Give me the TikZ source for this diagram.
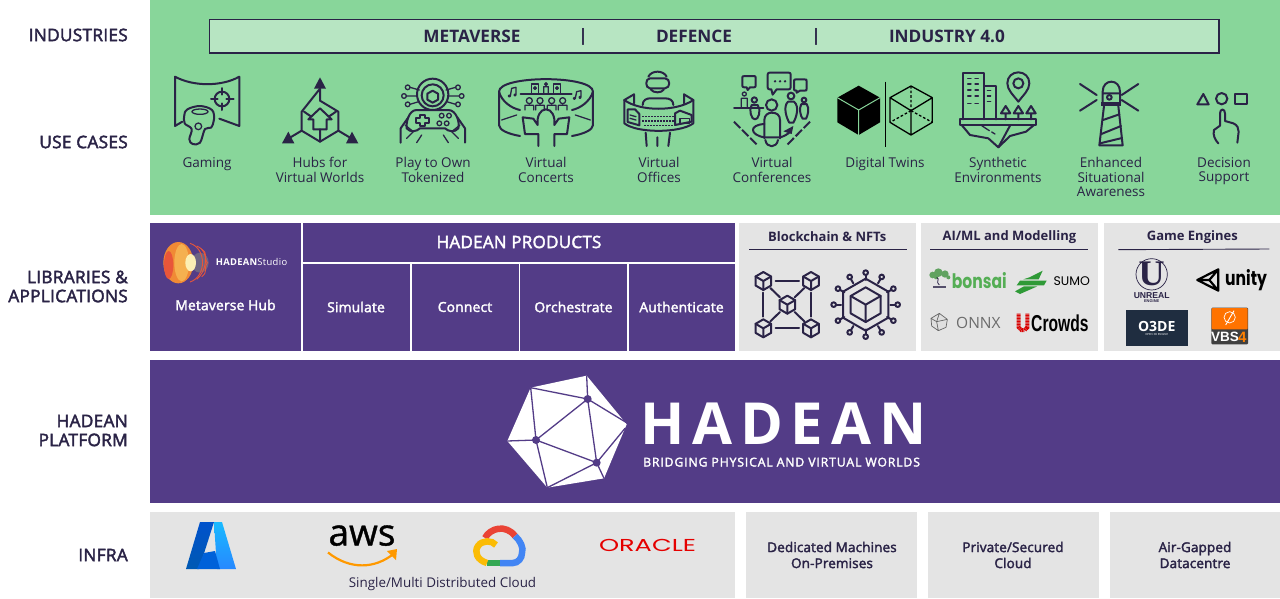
\documentclass[tikz,border=0pt]{standalone}
\usepackage{fontspec}
\setmainfont{Open Sans}
\newfontfamily\semi[FakeBold=2.4]{Open Sans}
\newfontfamily\medium[FakeBold=1]{Open Sans}
\newfontfamily\pop{Poppins}
\newfontfamily\lib{Liberation Sans}
\newfontfamily\libser{Liberation Serif}
\definecolor{ink}{HTML}{2A2346}
\definecolor{grn}{HTML}{88D69A}
\definecolor{grnl}{HTML}{B7E5C2}
\definecolor{pur}{HTML}{533C87}
\definecolor{gry}{HTML}{E4E4E4}
\definecolor{o3}{HTML}{1F2D40}
\definecolor{gred}{HTML}{EA4335}
\definecolor{gblue}{HTML}{4285F4}
\definecolor{ggreen}{HTML}{34A853}
\definecolor{gyel}{HTML}{FBBC05}
\definecolor{awsor}{HTML}{FF9900}
\definecolor{bons}{HTML}{55AE55}
\definecolor{sumog}{HTML}{2F9A37}
\definecolor{stA}{HTML}{F08A35}
\definecolor{stB}{HTML}{E8563A}
\definecolor{stC}{HTML}{F5B04F}
\definecolor{stD}{HTML}{FCEFB4}
\newcommand\hexcube[3]{%
  \draw[ico] (#1,{#2-#3})--({#1+.866*#3},{#2-.5*#3})--({#1+.866*#3},{#2+.5*#3})--(#1,{#2+#3})--({#1-.866*#3},{#2+.5*#3})--({#1-.866*#3},{#2-.5*#3})--cycle;
  \draw[ico] ({#1-.866*#3},{#2-.5*#3})--(#1,#2)--({#1+.866*#3},{#2-.5*#3}) (#1,#2)--(#1,{#2+#3});}
\tikzset{
 x=1pt,y=-1pt,
 ico/.style={draw=ink,line width=2pt,line join=round,line cap=round},
 thin ico/.style={draw=ink,line width=1.3pt,line join=round,line cap=round},
 z1/.style={shift={(150,60)},x=.33333pt,y=-.33333pt},
 z2/.style={shift={(580,60)},x=.33333pt,y=-.33333pt},
 z3/.style={shift={(950,60)},x=.33333pt,y=-.33333pt},
 z4/.style={shift={(150,220)},x=.33333pt,y=-.33333pt},
 z5/.style={shift={(735,220)},x=.33333pt,y=-.33333pt},
 z6/.style={shift={(920,220)},x=.33333pt,y=-.33333pt},
 z7/.style={shift={(490,365)},x=.33333pt,y=-.33333pt},
 rowlab/.style={font=\semi\fontsize{17.3}{19}\selectfont\addfontfeature{LetterSpace=1.5},text=ink,align=right,anchor=east,inner sep=0pt},
 barlab/.style={font=\fontsize{17.2}{19}\selectfont\bfseries,text=ink,inner sep=0pt},
 uselab/.style={font=\fontsize{13.5}{14.6}\selectfont,text=ink,align=center,inner sep=0pt,anchor=north},
 whitelab/.style={font=\semi\fontsize{13.8}{15}\selectfont\addfontfeature{LetterSpace=1.5},text=white,inner sep=0pt},
 graylab/.style={font=\semi\fontsize{13.5}{16}\selectfont\addfontfeature{LetterSpace=1},text=ink,align=center,inner sep=0pt},
 purbox/.style={fill=pur,draw=none},
 grybox/.style={fill=gry,draw=none},
}
\begin{document}
\begin{tikzpicture}
\useasboundingbox (0,0) rectangle (1280,598);
\fill[white] (0,0) rectangle (1280,598);
% panels
\fill[grn] (150,0) rectangle (1280,215);
\draw[fill=grnl,draw=ink,line width=1.4pt] (209.5,19.5) rectangle (1219,53);
\fill[purbox] (150,223) rectangle (301,351);
\fill[purbox] (303,223) rectangle (735,262);
\fill[purbox] (303,264) rectangle (410,351);
\fill[purbox] (411.5,264) rectangle (518.5,351);
\fill[purbox] (520,264) rectangle (627,351);
\fill[purbox] (628.5,264) rectangle (735,351);
\fill[grybox] (739,223) rectangle (916,351);
\fill[grybox] (921,223) rectangle (1098,351);
\fill[grybox] (1104,223) rectangle (1280,351);
\fill[purbox] (150,360) rectangle (1280,503);
\fill[grybox] (150,512) rectangle (735,598);
\fill[grybox] (746,512) rectangle (917,598);
\fill[grybox] (928,512) rectangle (1099,598);
\fill[grybox] (1110,512) rectangle (1280,598);
% row labels
\node[rowlab] (rIndustries) at (128,35) {INDUSTRIES};
\node[rowlab] (rUse) at (128,142) {USE CASES};
\node[rowlab] (rLib) at (128,286.5) {LIBRARIES \&\\APPLICATIONS};
\node[rowlab] (rPlat) at (128,430.5) {HADEAN\\PLATFORM};
\node[rowlab] (rInfra) at (128,555) {INFRA};
% top bar
\node[barlab] (tMeta) at (472,36) {METAVERSE};
\node[barlab] (tSep1) at (583,36.5) {|};
\node[barlab] (tDef) at (694,36) {DEFENCE};
\node[barlab] (tSep2) at (816,36.5) {|};
\node[barlab] (tInd) at (947,36) {INDUSTRY 4.0};
% use-case labels
\node[uselab] (u1) at (207,157) {Gaming};
\node[uselab] (u2) at (320,157) {Hubs for\\Virtual Worlds};
\node[uselab] (u3) at (433,157) {Play to Own\\Tokenized};
\node[uselab] (u4) at (546,157) {Virtual\\Concerts};
\node[uselab] (u5) at (659,157) {Virtual\\Offices};
\node[uselab] (u6) at (772,157) {Virtual\\Conferences};
\node[uselab] (u7) at (885,157) {Digital Twins};
\node[uselab] (u8) at (998,157) {Synthetic\\Environments};
\node[uselab] (u9) at (1111,157) {Enhanced\\Situational\\Awareness};
\node[uselab] (u10) at (1224,157) {Decision\\Support};
% ---- Gaming
\begin{scope}[z1]
\draw[ico] (97,185)--(75,198)--(75,50) .. controls (130,80) and (215,80) .. (268,50)--(268,198)--(208,176);
\draw[ico] (216,117) circle[radius=22];
\draw[ico] (216,84)--(216,104) (216,130)--(216,150) (183,117)--(203,117) (229,117)--(251,117);
\draw[ico] plot[smooth cycle,tension=.6] coordinates {(112,148)(150,138)(186,150)(192,178)(183,203)(165,207)(150,248)(128,252)(118,238)(125,207)(104,190)(103,165)};
\draw[thin ico] (150,155) ellipse[x radius=24,y radius=8];
\draw[thin ico] (145,199) circle[radius=10];
% ---- Hubs
\fill[ink] (510,52)--(528,86)--(492,86)--cycle (396,250)--(433,250)--(415,215)--cycle (625,250)--(588,250)--(606,215)--cycle;
\draw[ico] (510,86)--(510,122)--(565,155)--(565,212)--(510,245)--(455,212)--(455,155)--cycle;
\draw[ico] (455,212)--(418,234) (565,212)--(602,234);
\draw[ico] (510,145)--(545,178)--(530,178)--(530,208)--(490,208)--(490,178)--(475,178)--cycle;
\draw[ico] (510,208)--(510,245) (462,155)--(484,170) (558,155)--(536,170);
% ---- Play to own
\draw[ico] (848,103) circle[radius=47];
\draw[ico] (848,106) circle[radius=33];
\draw[ico] (848,92)--(864,101)--(864,119)--(848,128)--(832,119)--(832,101)--cycle;
\foreach \p/\q in {773/82,762/108,773/133,924/82,935/108,924/133}{\draw[thin ico] (\p,\q) circle[radius=7];}
\draw[thin ico] (780,82)--(808,90) (769,108)--(801,108) (780,133)--(806,125) (917,82)--(888,90) (928,108)--(895,108) (917,133)--(890,125);
\draw[ico] (800,150)--(895,150) .. controls (920,150) and (930,190) .. (925,205) .. controls (915,218) and (895,215) .. (885,205)--(810,205) .. controls (800,215) and (780,218) .. (770,205) .. controls (768,190) and (775,150) .. (800,150);
\draw[ico] (810,165)--(825,165)--(825,174)--(836,174)--(836,188)--(825,188)--(825,198)--(810,198)--(810,188)--(798,188)--(798,174)--(810,174)--cycle;
\foreach \p/\q in {875/167,897/167,868/190,890/190}{\draw[thin ico] (\p,\q) circle[radius=7];}
\draw[ico] (752,248)--(752,205)--(775,172) (945,248)--(945,205)--(922,172);
\draw[thin ico] (770,235)--(790,215) (800,248)--(815,225) (925,235)--(905,215) (895,248)--(880,225) (765,195)--(790,215) (930,195)--(905,215);
% ---- Concerts
\draw[ico] (1110,228) .. controls (1075,222) and (1047,210) .. (1047,195)--(1047,95) .. controls (1047,45) and (1329,45) .. (1329,95)--(1329,195) .. controls (1329,210) and (1300,222) .. (1266,228);
\draw[ico] (1047,95) .. controls (1055,125) and (1085,145) .. (1110,150);
\draw[ico] (1329,95) .. controls (1320,125) and (1290,145) .. (1266,150);
\draw[thin ico] (1055,180)--(1100,165) (1321,180)--(1276,165);
\draw[ico] (1112,102)--(1265,102);
\draw[thin ico] (1145,72) rectangle (1165,100) (1210,72) rectangle (1232,100);
\draw[thin ico] (1155,84) circle[radius=4] (1221,84) circle[radius=4] (1188,72) circle[radius=4] (1181,100)--(1181,80)--(1195,80)--(1195,100);
\foreach \p in {1138,1170,1205,1238}{\draw[thin ico] (\p,122) circle[radius=9] (\p-13,150)--(\p-13,136)--(\p+13,136)--(\p+13,150);}
\draw[ico] (1165,258)--(1165,222)--(1125,222)--(1118,172)--(1150,176)--(1163,195) .. controls (1160,170) and (1170,148) .. (1188,148) .. controls (1206,148) and (1216,170) .. (1213,195)--(1226,176)--(1258,172)--(1251,222)--(1213,222)--(1213,258);
\draw[thin ico] (1078,108) circle[radius=3] (1081,108)--(1085,85)--(1098,82) (1095,105) circle[radius=3] (1098,105)--(1098,82);
\draw[thin ico] (1273,115) circle[radius=3] (1276,115)--(1280,95)--(1293,92) (1290,112) circle[radius=3] (1293,112)--(1293,92);
\end{scope}
\begin{scope}[z2]
% ---- Offices
\draw[ico] (205,50) .. controls (215,30) and (250,30) .. (260,50);
\draw[ico] (210,55)--(255,55) .. controls (272,55) and (272,85) .. (255,85)--(210,85) .. controls (195,85) and (195,55) .. (210,55);
\draw[ico] (212,88) .. controls (220,100) and (245,100) .. (252,88);
\draw[ico] (188,135) .. controls (188,120) and (200,115) .. (210,115)--(255,115) .. controls (268,115) and (280,120) .. (280,135);
\draw[ico] (133,120)--(162,103)--(162,130) (340,120)--(312,103)--(312,130);
\draw[ico] (133,120) .. controls (180,155) and (290,155) .. (340,120);
\draw[ico] (133,120)--(133,190) .. controls (170,220) and (300,220) .. (340,190)--(340,120);
\draw[thin ico,line cap=butt,dash pattern=on 2pt off 1pt] (187,170)--(285,170) (187,183)--(285,183) (192,196)--(280,196);
\draw[ico] (143,148)--(165,148)--(178,162)--(178,196)--(143,186)--cycle;
\draw[thin ico] (150,165)--(168,170) (150,175)--(168,180);
\draw[ico] (285,195)--(285,160)--(300,152)--(335,165)--(335,185)--cycle;
\draw[thin ico] (300,175) rectangle (328,190);
\draw[ico] (197,218)--(200,258) (270,218)--(265,258) (232,232)--(232,258);
% ---- Conferences
\draw[ico] (495,48)--(517,48) .. controls (527,48) and (527,48) .. (527,58)--(527,72) .. controls (527,82) and (527,82) .. (517,82)--(510,82)--(503,90)--(500,82) .. controls (487,82) and (487,82) .. (487,72)--(487,58) .. controls (487,48) and (487,48) .. (495,48);
\draw[ico] (575,38)--(620,38) .. controls (632,38) and (632,38) .. (632,50)--(632,75) .. controls (632,88) and (632,88) .. (620,88)--(590,88)--(578,104)--(574,88) .. controls (563,88) and (563,88) .. (563,75)--(563,50) .. controls (563,38) and (563,38) .. (575,38);
\fill[ink] (585,64) circle[radius=4] (600,64) circle[radius=4] (615,64) circle[radius=4];
\draw[ico] (650,58)--(672,58) .. controls (680,58) and (680,58) .. (680,66)--(680,84) .. controls (680,92) and (680,92) .. (672,92)--(660,92)--(650,98)--(650,92) .. controls (642,92) and (642,92) .. (642,84)--(642,66) .. controls (642,58) and (642,58) .. (650,58);
\draw[ico] (462,143)--(550,143);
\draw[thin ico] (493,102) circle[radius=6] (484,140)--(484,115)--(502,115)--(502,140);
\draw[ico] (523,120) circle[radius=8];
\draw[ico] (515,135) .. controls (505,150) and (515,180) .. (525,178) .. controls (535,180) and (545,150) .. (533,135) -- cycle;
\draw[ico] (633,108) circle[radius=10];
\draw[ico] (624,125)--(642,125) .. controls (660,140) and (648,175) .. (640,188)--(628,188) .. controls (620,175) and (608,140) .. (624,125);
\draw[ico] (672,120) circle[radius=7];
\draw[ico] (664,132)--(680,132) .. controls (690,145) and (682,170) .. (678,176)--(668,176) .. controls (662,170) and (656,145) .. (664,132);
\draw[ico] (575,135) circle[radius=17];
\draw[ico] (553,235)--(553,180) .. controls (553,165) and (565,158) .. (575,158) .. controls (590,158) and (600,165) .. (600,180)--(600,235);
\draw[ico] (553,232)  .. controls (510,225) and (505,195) .. (553,192);
\draw[ico] (553,232)--(600,232) .. controls (610,230) and (625,222) .. (630,215);
\fill[ink] (640,198)--(635,222)--(610,214)--cycle;
\draw[ico] (556,240) .. controls (560,265) and (590,265) .. (594,240);
\draw[ico,line cap=butt,dash pattern=on 9pt off 2.5pt] (462,185)--(535,258) (690,185)--(618,258);
% ---- Digital twins
\fill[black] (836,77)--(900,113)--(900,187)--(836,225)--(772,187)--(772,113)--cycle;
\draw[grn,line width=1pt] (772,113)--(836,150)--(900,113) (836,150)--(836,225);
\draw[black,line width=1pt] (915,65)--(915,262);
\draw[black,line width=1.3pt,line join=round] (993,78)--(1057,113)--(1057,187)--(993,225)--(930,187)--(930,113)--cycle (930,113)--(993,152)--(1057,113) (993,152)--(993,225);
\draw[black,line width=1.3pt,dash pattern=on 2.6pt off 2pt] (993,78)--(993,152) (993,152)--(930,187) (993,152)--(1057,187);
\end{scope}
\begin{scope}[z3]
% ---- Synthetic
\draw[ico] (38,178)--(38,38)--(103,38)--(103,178) (103,77)--(137,77)--(137,178);
\draw[ico] (30,178)--(258,178)--(258,195)--(30,195)--cycle;
\foreach \q in {55,72,90,108,130}{\draw[thin ico] (53,\q)--(63,\q) (75,\q)--(85,\q);}
\foreach \q in {92,108,125}{\draw[thin ico] (112,\q)--(122,\q);}
\draw[ico] (205,125) .. controls (190,105) and (172,90) .. (172,70) .. controls (172,50) and (187,37) .. (205,37) .. controls (223,37) and (238,50) .. (238,70) .. controls (238,90) and (220,105) .. (205,125)--cycle;
\draw[ico] (205,70) circle[radius=15];
\foreach \p in {167,205,243}{\draw[ico] (\p,138)--(\p+14,160)--(\p-14,160)--cycle (\p,160)--(\p,178);}
\draw[ico] (35,195)--(60,225)--(115,235)--(145,262)--(180,228)--(228,215)--(252,195);
\draw[ico] (180,197)--(145,262);
\draw[thin ico] (95,197)--(118,212) (125,216)--(135,222);
% ---- Lighthouse
\draw[ico] (458,128)--(458,95) .. controls (458,55) and (510,55) .. (510,95)--(510,128) (458,100)--(510,100);
\draw[ico] (478,112) circle[radius=7];
\fill[ink] (454,126) rectangle (513,139);
\draw[ico] (462,138)--(448,256)--(518,256)--(505,138);
\draw[ico] (459,180)--(508,163) (454,222)--(513,198) (450,250)--(516,234);
\draw[ico] (390,72)--(440,105) (390,152)--(440,120) (565,72)--(515,105) (565,152)--(515,120);
% ---- Decision
\draw[ico] (760,102)--(776,133)--(742,133)--cycle;
\draw[ico] (815,116) circle[radius=17];
\draw[ico] (856,102) rectangle (890,133);
\draw[ico] (810,197)--(810,160) .. controls (810,145) and (825,145) .. (825,160)--(825,183)--(850,190) .. controls (862,195) and (866,205) .. (866,215)--(862,248);
\draw[ico] (810,197)--(792,210) .. controls (788,225) and (795,240) .. (805,250);
\end{scope}
% ---- Metaverse hub
\begin{scope}[z4]
\fill[stA] (85,128) ellipse[x radius=45,y radius=62];
\fill[stB] (56,135) ellipse[x radius=14,y radius=42];
\fill[stC] (95,128) ellipse[x radius=22,y radius=56];
\fill[gray!60!pur] (150,128) ellipse[x radius=26,y radius=30];
\fill[stD] (122,128) ellipse[x radius=16,y radius=26];
\draw[stB,line width=.9pt] (120,70) .. controls (170,85) and (170,170) .. (120,186);
\draw[stB,line width=.9pt] (140,78) .. controls (185,95) and (165,160) .. (140,178);
\draw[stB,line width=.9pt] (155,88) .. controls (175,100) and (160,110) .. (172,128) .. controls (160,146) and (175,156) .. (155,170);
\node[anchor=west,inner sep=0pt,text=white] (studio) at (197,127) {\fontsize{9.4}{10}\selectfont\bfseries\addfontfeature{LetterSpace=3}HADEAN\mdseries\addfontfeature{LetterSpace=4}Studio};
\end{scope}
\node[whitelab] (hub) at (225.5,305) {Metaverse Hub};
\node[font=\semi\fontsize{17}{19}\selectfont\addfontfeature{LetterSpace=1.5},text=white,inner sep=0pt] (prod) at (519,242) {HADEAN PRODUCTS};
\node[whitelab] (p1) at (356,307) {Simulate};
\node[whitelab] (p2) at (465,307) {Connect};
\node[whitelab] (p3) at (573.5,307) {Orchestrate};
\node[whitelab] (p4) at (681.5,307) {Authenticate};
% ---- Blockchain
\begin{scope}[z5]
\node[graylab,font=\fontsize{13}{16}\selectfont\bfseries] (bc) at (277,51) {Blockchain \& NFTs};
\draw[ink,line width=.9pt] (42,89)--(516,89);
\hexcube{85}{183}{27}\hexcube{228}{183}{27}\hexcube{85}{325}{27}\hexcube{228}{325}{27}\hexcube{157}{254}{27}
\draw[ico] (122,183)--(192,183) (122,325)--(192,325) (85,218)--(85,290) (228,218)--(228,290);
\draw[ico] (106,204)--(135,232) (208,204)--(179,232) (106,304)--(135,276) (208,304)--(179,276);
\draw[ico] (392,176)--(460,215)--(460,293)--(392,332)--(324,293)--(324,215)--cycle;
\hexcube{392}{254}{52}
\foreach \a in {0,30,...,330}{
 \draw[ico] ({392+74*cos(\a)},{254+74*sin(\a)})--({392+89*cos(\a)},{254+89*sin(\a)});
 \draw[ico] ({392+96*cos(\a)},{254+96*sin(\a)}) circle[radius=7];}
\end{scope}
% ---- AI/ML
\begin{scope}[z6]
\node[font=\fontsize{13}{16}\selectfont\bfseries,text=ink,inner sep=0pt] (ai) at (268,51) {AI/ML and Modelling};
\draw[ink,line width=.9pt] (30,89)--(505,89);
\node[font=\fontsize{13}{16}\selectfont\bfseries,text=ink,inner sep=0pt] (ge) at (817,51) {Game Engines};
\draw[ink,line width=.9pt] (595,89)--(1048,87);
% bonsai
\foreach \p/\q/\r in {38/165/10,55/158/13,75/162/11,85/172/6,48/172/6}{\fill[bons!75!gray] (\p,\q) circle[radius=\r];}
\draw[ink,line width=.8pt] (50,172) .. controls (62,178) and (45,185) .. (58,195);
\fill[ink!80] (40,197) rectangle (78,205);
\node[font=\pop\fontsize{20}{20}\selectfont\bfseries\addfontfeature{FakeStretch=.78},text=bons,anchor=west,inner sep=0pt] (bonsai) at (95,183) {bonsai};
% sumo
\fill[sumog] (328,172)--(368,152)--(356,178)--(310,178)--cycle;
\fill[sumog] (300,182)--(380,182)--(372,196)--(290,196)--cycle;
\fill[sumog] (285,214)--(312,199)--(352,199)--(300,222)--cycle;
\node[font=\pop\fontsize{12.5}{14}\selectfont,text=black,anchor=west,inner sep=0pt] (sumo) at (400,184) {SUMO};
% onnx
\draw[gray!80!black,fill=gray!25,line width=.7pt,line join=round] (58,280)--(82,298)--(78,322)--(55,332)--(35,318)--(33,295)--cycle (58,280)--(50,305)--(33,295) (50,305)--(82,298) (50,305)--(55,332);
\node[font=\fontsize{15.5}{17}\selectfont,text=gray!85!black,anchor=west,inner sep=0pt] (onnx) at (108,308) {ONNX};
% ucrowds
\draw[red!85!black,line width=4pt,dash pattern=on 1pt off .5pt] (296,281)--(296,322) -- (304,330)--(314,330)--(322,322)--(322,281);
\node[font=\lib\fontsize{23}{24}\selectfont\bfseries\addfontfeature{FakeStretch=.68},text=black,anchor=west,inner sep=0pt] (crowds) at (333,310) {Crowds};
% unreal
\draw[ink,line width=.7pt] (695,163) circle[radius=47];
\node[font=\libser\fontsize{36}{36}\selectfont\bfseries,text=ink,inner sep=0pt] (ueU) at (695,163) {U};
\node[font=\lib\fontsize{8.6}{9}\selectfont\bfseries,text=ink,inner sep=0pt] (ue) at (695,226) {UNREAL};
\node[font=\lib\fontsize{4}{5}\selectfont\bfseries,text=ink,inner sep=0pt] (ue2) at (695,243) {ENGINE};
% unity
\draw[black,line width=2.2pt,line join=round] (832,180)--(895,148)--(895,212)--cycle (868,180)--(832,180) (868,180)--(895,148) (868,180)--(895,212);
\node[font=\pop\fontsize{20}{20}\selectfont\bfseries\addfontfeature{FakeStretch=.78},text=black,anchor=west,inner sep=0pt] (unity) at (915,180) {unity};
% o3de
\fill[o3] (617,270) rectangle (803,377);
\node[font=\fontsize{14}{15}\selectfont\bfseries,text=white,inner sep=0pt] (o3de) at (710,318) {O3DE};
\node[font=\fontsize{2.8}{3}\selectfont,text=white,inner sep=0pt] (o3de2) at (710,342) {OPEN 3D ENGINE};
% vbs
\fill[black!75,rounded corners=1pt] (874,263) rectangle (984,373);
\fill[orange!90!red,rounded corners=1pt] (875,264) rectangle (983,328);
\draw[white,line width=.7pt] (929,292) circle[radius=17];
\draw[white,line width=.9pt] (917,315)--(942,272);
\node[font=\lib\fontsize{13.5}{15}\selectfont\bfseries,text=white,inner sep=0pt] (vbs) at (915,351) {VBS};
\node[font=\lib\fontsize{15}{15}\selectfont\bfseries,text=orange,inner sep=0pt] (vbs4) at (967,351) {4};
\end{scope}
% ---- Hadean logo
\begin{scope}[z7]
\fill[white,line join=round] (122,68)--(290,32)--(410,178)--(342,340)--(172,368)--(52,228)--cycle;
\draw[pur,line width=1.3pt] (122,68)--(293,102) (290,32)--(293,102) (293,102)--(408,172) (293,102)--(138,225) (293,102)--(320,293) (122,68)--(138,225) (52,228)--(138,225) (138,225)--(172,368) (138,225)--(320,293) (320,293)--(405,190) (320,293)--(172,368) (320,293)--(342,340);
\fill[pur] (293,102) circle[radius=12] (138,225) circle[radius=12] (320,293) circle[radius=12];
\end{scope}
\node[font=\fontsize{58}{60}\selectfont\bfseries\addfontfeature{LetterSpace=13.5},text=white,inner sep=0pt,anchor=base west] (hadean) at (640,444) {HADEAN};
\node[font=\semi\fontsize{12.2}{13}\selectfont\addfontfeature{LetterSpace=7.2},text=white,inner sep=0pt,anchor=base west] (tag) at (643,466.5) {BRIDGING PHYSICAL AND VIRTUAL WORLDS};
% ---- Infra
\shade[top color=blue!60!cyan!80!black,bottom color=blue!50!cyan!70!black] (186,569)--(200,522)--(214,522)--(199,569)--cycle;
\shade[top color=cyan!70!blue!90,bottom color=cyan!45!blue!85] (214,522)--(222,522)--(236,569)--(217,569)--cycle;
\fill[blue!55!cyan!85!black] (204,553)--(215,551)--(220,569)--(197,569)--cycle;
\node[font=\medium\fontsize{37}{38}\selectfont,text=black,inner sep=0pt,anchor=base] (aws) at (362,545.5) {aws};
\draw[awsor,line width=2.2pt] (328,552.5) .. controls (350,570) and (375,569) .. (394,553.5);
\fill[awsor] (387,551)--(397,549)--(396,560)--cycle;
\draw[gred,line width=6.5pt] (485,538) .. controls (490,528) and (506,524) .. (515,536);
\draw[gblue,line width=6.5pt] (515,536) .. controls (520,540) and (524,548) .. (522,553) .. controls (522,558) and (518,563) .. (513,563)--(500,563);
\draw[ggreen,line width=6.5pt] (500,563)--(487,563);
\draw[gyel,line width=6.5pt] (487,563) .. controls (477,560) and (474,552) .. (478,546) .. controls (482,540) and (492,540) .. (496,545);
\node[font=\pop\fontsize{17.3}{18}\selectfont\addfontfeature{FakeStretch=1.48},text=red!90!black,inner sep=0pt] (oracle) at (647.5,545) {ORACLE};
\node[font=\fontsize{13.4}{16}\selectfont,text=ink,inner sep=0pt] (single) at (442.5,584) {Single/Multi Distributed Cloud};
\node[graylab] (i1) at (832,555) {Dedicated Machines\\On-Premises};
\node[graylab] (i2) at (1013,555) {Private/Secured\\Cloud};
\node[graylab] (i3) at (1195,555) {Air-Gapped\\Datacentre};
\end{tikzpicture}
\end{document}
